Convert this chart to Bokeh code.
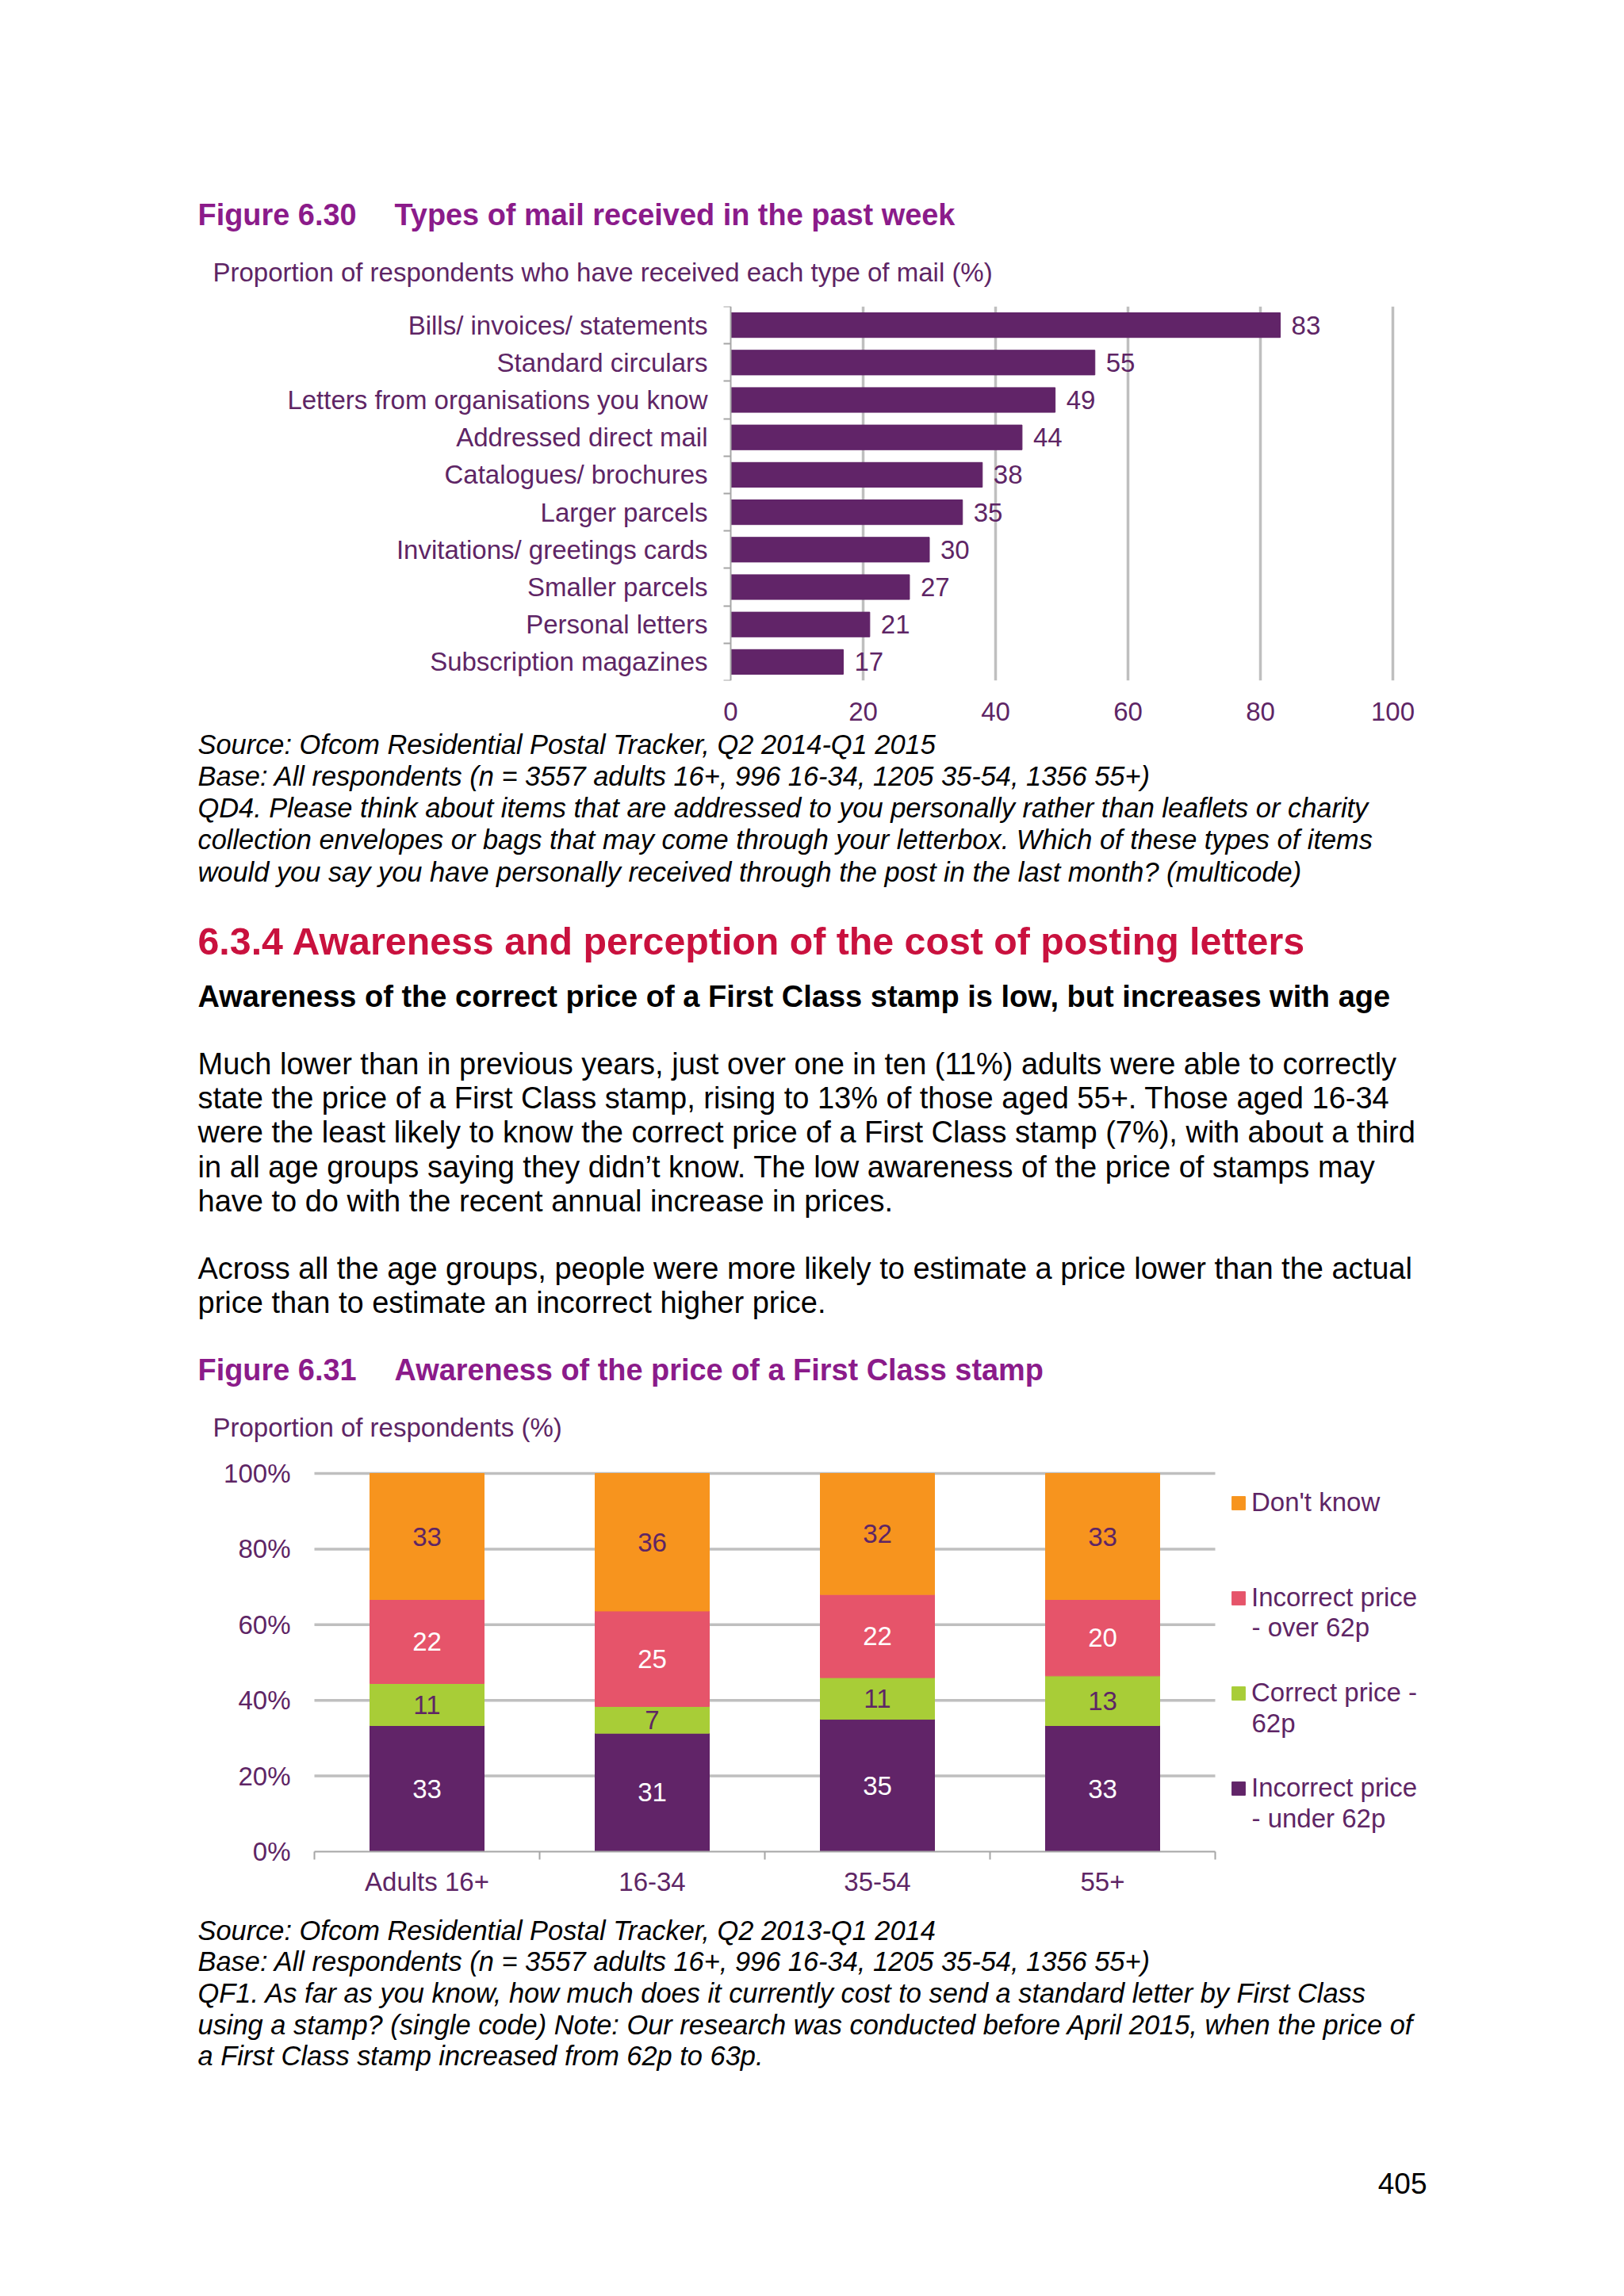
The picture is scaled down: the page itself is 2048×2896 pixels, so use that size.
from bokeh.plotting import figure
from bokeh.models import (Range1d, FixedTicker, Legend, LegendItem, ColumnDataSource,
                          LinearAxis, Label)
from bokeh.layouts import column
from bokeh.embed import file_html
from bokeh.resources import INLINE
from bokeh.core.properties import value
import numpy as np

# ---------------- data ----------------
mail_types = ["Bills/ invoices/ statements", "Standard circulars",
              "Letters from organisations you know", "Addressed direct mail",
              "Catalogues/ brochures", "Larger parcels",
              "Invitations/ greetings cards", "Smaller parcels",
              "Personal letters", "Subscription magazines"]
mail_pct = [83, 55, 49, 44, 38, 35, 30, 27, 21, 17]
mail_ticks = [0, 20, 40, 60, 80, 100]

age_groups = ["Adults 16+", "16-34", "35-54", "55+"]
under_62p = [33, 31, 35, 33]
correct_62p = [11, 7, 11, 13]
over_62p = [22, 25, 22, 20]
dont_know = [33, 36, 32, 33]
series_keys = ["under", "correct", "over", "dk"]
legend_labels = ["Incorrect price\n- under 62p", "Correct price -\n62p",
                 "Incorrect price\n- over 62p", "Don't know"]
pct_ticks = [0, 20, 40, 60, 80, 100]

# ---------------- style / layout constants ----------------
FONT = "Liberation Sans"
W = 2032
PURPLE = "#612468"
ORANGE = "#F7941E"
PINK = "#E6546A"
GREEN = "#A8CD37"
TITLE = "#8B1B8A"
CTXT = "#5E2565"
RED = "#C9113E"
GRID = "#BFBFBF"
AXIS = "#A6A6A6"


def text_fig(top, bottom):
    h = bottom - top
    p = figure(width=W, height=h, x_range=Range1d(0, W), y_range=Range1d(h, 0),
               output_backend="svg", toolbar_location=None, min_border=0,
               x_axis_location=None, y_axis_location=None,
               outline_line_color=None)
    p.grid.visible = False
    return p


def put(p, top, x, y, s, size, color="black", style="normal", align="left"):
    p.text(x=[x], y=[y - top], text=[s], text_font=value(FONT),
           text_font_size=f"{size}px", text_color=color,
           text_font_style=style, text_align=align, text_baseline="middle")


# ---------------- segment A: top titles ----------------
A0, A1 = 0, 375
pA = text_fig(A0, A1)
put(pA, A0, 249, 270, "Figure 6.30", 37.9, TITLE, "bold")
put(pA, A0, 497, 270, "Types of mail received in the past week", 37.9, TITLE, "bold")
put(pA, A0, 268, 343, "Proportion of respondents who have received each type of mail (%)", 33, CTXT)

# ---------------- segment B: chart 1 ----------------
B0, B1 = 375, 918
X0, PX = 921, 8.35          # screen x of value 0, pixels per percentage point
idx1 = list(range(len(mail_types)))
src1 = ColumnDataSource(dict(y=idx1, v=mail_pct, lab=[str(v) for v in mail_pct]))
p1 = figure(width=W, height=B1 - B0, x_range=Range1d(-X0 / PX, (W - X0) / PX),
            y_range=Range1d(len(mail_types) - 0.5, -0.5),
            min_border_left=0, min_border_right=0,
            min_border_top=386 - B0, min_border_bottom=B1 - 858,
            y_axis_location=None,
            output_backend="svg", toolbar_location=None, outline_line_color=None)
p1.xgrid.ticker = FixedTicker(ticks=mail_ticks[1:])
p1.xgrid.grid_line_color = GRID
p1.xgrid.grid_line_width = 3.5
p1.ygrid.visible = False
p1.hbar(y="y", right="v", left=0, height=0.66, color=PURPLE, source=src1)
p1.text(x="v", y="y", text="lab", source=src1, x_offset=14, text_font=value(FONT),
        text_font_size="33px", text_color=CTXT, text_baseline="middle", text_align="left")
xa = p1.xaxis[0]
xa.ticker = FixedTicker(ticks=mail_ticks)
xa.axis_line_color = None
xa.major_tick_line_color = None
xa.minor_tick_line_color = None
xa.major_label_text_font = FONT
xa.major_label_text_font_size = "33px"
xa.major_label_text_color = CTXT
xa.major_label_standoff = 21
ya = LinearAxis(fixed_location=0,
                ticker=FixedTicker(ticks=idx1, minor_ticks=[i - 0.5 for i in range(len(mail_types) + 1)]),
                major_label_overrides={i: t for i, t in enumerate(mail_types)})
ya.major_tick_line_color = None
ya.major_tick_out = 0
ya.major_tick_in = 0
ya.minor_tick_out = 9
ya.minor_tick_in = 0
ya.minor_tick_line_color = AXIS
ya.minor_tick_line_width = 2
ya.axis_line_color = AXIS
ya.axis_line_width = 2
ya.major_label_text_font = FONT
ya.major_label_text_font_size = "33px"
ya.major_label_text_color = CTXT
ya.major_label_standoff = 20
p1.add_layout(ya, "left")

# ---------------- segment C: middle text ----------------
C0, C1 = 918, 1830
pC = text_fig(C0, C1)
src_lines1 = [
    "Source: Ofcom Residential Postal Tracker, Q2 2014-Q1 2015",
    "Base: All respondents (n = 3557 adults 16+, 996 16-34, 1205 35-54, 1356 55+)",
    "QD4. Please think about items that are addressed to you personally rather than leaflets or charity",
    "collection envelopes or bags that may come through your letterbox. Which of these types of items",
    "would you say you have personally received through the post in the last month? (multicode)",
]
for k, s in enumerate(src_lines1):
    put(pC, C0, 249, 938 + 40.25 * k, s, 34.4, "black", "italic")
put(pC, C0, 249, 1186, "6.3.4 Awareness and perception of the cost of posting letters", 48.3, RED, "bold")
put(pC, C0, 249, 1256, "Awareness of the correct price of a First Class stamp is low, but increases with age", 38, "black", "bold")
para1 = [
    "Much lower than in previous years, just over one in ten (11%) adults were able to correctly",
    "state the price of a First Class stamp, rising to 13% of those aged 55+. Those aged 16-34",
    "were the least likely to know the correct price of a First Class stamp (7%), with about a third",
    "in all age groups saying they didn\u2019t know. The low awareness of the price of stamps may",
    "have to do with the recent annual increase in prices.",
]
for k, s in enumerate(para1):
    put(pC, C0, 249, 1341 + 43.4 * k, s, 38)
para2 = [
    "Across all the age groups, people were more likely to estimate a price lower than the actual",
    "price than to estimate an incorrect higher price.",
]
for k, s in enumerate(para2):
    put(pC, C0, 249, 1599 + 43.0 * k, s, 38)
put(pC, C0, 249, 1727, "Figure 6.31", 37.9, TITLE, "bold")
put(pC, C0, 497, 1727, "Awareness of the price of a First Class stamp", 37.9, TITLE, "bold")
put(pC, C0, 268, 1800, "Proportion of respondents (%)", 33, CTXT)

# ---------------- segment D: chart 2 ----------------
D0, D1 = 1830, 2410
XL, CW = 396, 284           # screen x of the left category edge, pixels per category
Y0, PY = 2335, 4.77         # screen y of 0 %, pixels per percentage point
FTOP = 1835                 # screen y of the frame top
n2 = len(age_groups)
idx2 = list(range(n2))

vals = np.array([under_62p, correct_62p, over_62p, dont_know], dtype=float)
share = vals / vals.sum(axis=0) * 100.0          # 100 % stacked
cum = np.cumsum(share, axis=0)
centers = cum - share / 2.0

src2 = ColumnDataSource(dict(x=idx2, **{k: list(share[i]) for i, k in enumerate(series_keys)}))
p2 = figure(width=W, height=D1 - D0,
            x_range=Range1d(-0.5 - XL / CW, -0.5 + (W - XL) / CW),
            y_range=Range1d(-(D1 - Y0) / PY, (Y0 - FTOP) / PY),
            min_border_left=0, min_border_right=0,
            min_border_top=FTOP - D0, min_border_bottom=0,
            x_axis_location=None, y_axis_location=None,
            output_backend="svg", toolbar_location=None, outline_line_color=None)
p2.grid.visible = False
grid_y = pct_ticks[1:]
p2.segment(x0=[-0.5] * len(grid_y), x1=[n2 - 0.5] * len(grid_y), y0=grid_y, y1=grid_y,
           line_color=GRID, line_width=3.5)
colors2 = [PURPLE, GREEN, PINK, ORANGE]
rends = p2.vbar_stack(series_keys, x="x", width=0.507, color=colors2, source=src2)

lab_colors = ["white", CTXT, "white", CTXT]
for s_i in range(len(series_keys)):
    p2.text(x=idx2, y=list(centers[s_i]), text=[str(int(v)) for v in vals[s_i]],
            text_font=value(FONT), text_font_size="33px", text_color=lab_colors[s_i],
            text_align="center", text_baseline="middle")

xb = LinearAxis(fixed_location=0, bounds=(-0.5, n2 - 0.5),
                ticker=FixedTicker(ticks=idx2, minor_ticks=[i - 0.5 for i in range(n2 + 1)]),
                major_label_overrides={i: t for i, t in enumerate(age_groups)})
xb.major_tick_line_color = None
xb.major_tick_out = 0
xb.major_tick_in = 0
xb.minor_tick_out = 10
xb.minor_tick_in = 0
xb.minor_tick_line_color = AXIS
xb.minor_tick_line_width = 2
xb.axis_line_color = AXIS
xb.axis_line_width = 2
xb.major_label_text_font = FONT
xb.major_label_text_font_size = "33px"
xb.major_label_text_color = CTXT
xb.major_label_standoff = 9
p2.add_layout(xb, "below")
yb = LinearAxis(fixed_location=-0.5, bounds=(0, 100), ticker=FixedTicker(ticks=pct_ticks),
                major_label_overrides={v: f"{v}%" for v in pct_ticks})
yb.axis_line_color = None
yb.major_tick_line_color = None
yb.major_tick_out = 0
yb.major_tick_in = 0
yb.minor_tick_line_color = None
yb.minor_tick_out = 0
yb.major_label_text_font = FONT
yb.major_label_text_font_size = "33px"
yb.major_label_text_color = CTXT
yb.major_label_standoff = 30
p2.add_layout(yb, "left")

# legend: first lines as legend entries (top to bottom: Don't know ... under 62p)
LEG_X, LEG_Y1, LEG_PITCH, LINE2 = 1551, 1894, 120.4, 38
order = list(range(len(series_keys) - 1, -1, -1))
items = [LegendItem(label=legend_labels[i].split("\n")[0], renderers=[rends[i]]) for i in order]
legend = Legend(items=items,
                location=(LEG_X, D1 - (LEG_Y1 + LEG_PITCH * (len(order) - 1) + 20)),
                padding=0, margin=0, border_line_color=None, background_fill_alpha=0,
                glyph_width=21, glyph_height=21, label_standoff=6,
                label_height=40, spacing=int(round(LEG_PITCH - 40)),
                label_text_font=FONT, label_text_font_size="33px", label_text_color=CTXT)
p2.add_layout(legend)
for pos, i in enumerate(order):
    parts = legend_labels[i].split("\n")
    if len(parts) > 1:
        ypx = LEG_Y1 + LEG_PITCH * pos + LINE2
        p2.add_layout(Label(x=(LEG_X + 27 - XL) / CW - 0.5, y=(Y0 - ypx) / PY, text=parts[1],
                            text_font=FONT, text_font_size="33px", text_color=CTXT,
                            text_baseline="middle", text_align="left"))

# ---------------- segment E: bottom text ----------------
E0, E1 = 2410, 2880
pE = text_fig(E0, E1)
src_lines2 = [
    "Source: Ofcom Residential Postal Tracker, Q2 2013-Q1 2014",
    "Base: All respondents (n = 3557 adults 16+, 996 16-34, 1205 35-54, 1356 55+)",
    "QF1. As far as you know, how much does it currently cost to send a standard letter by First Class",
    "using a stamp? (single code) Note: Our research was conducted before April 2015, when the price of",
    "a First Class stamp increased from 62p to 63p.",
]
for k, s in enumerate(src_lines2):
    put(pE, E0, 249, 2434 + 39.7 * k, s, 34.4, "black", "italic")
put(pE, E0, 1799, 2753, "405", 37, "black", "normal", "right")

layout = column(pA, p1, pC, p2, pE, spacing=0)
open("out.html", "w").write(file_html(layout, INLINE, "Figures 6.30 and 6.31"))
